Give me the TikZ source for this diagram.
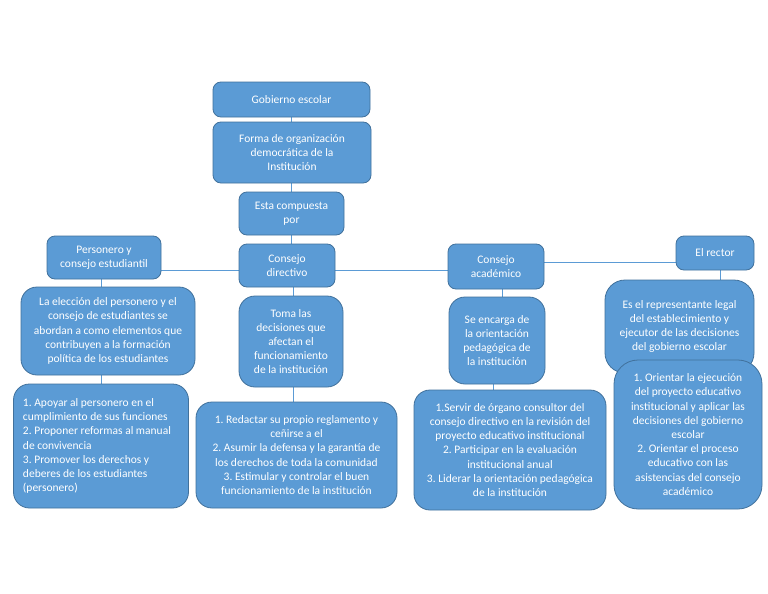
\documentclass[tikz,border=0pt]{standalone}
\usepackage{fontspec}
\setmainfont{Carlito}
\usetikzlibrary{calc}
\definecolor{boxfill}{HTML}{5B9BD5}
\definecolor{boxborder}{HTML}{41719C}
\definecolor{linkc}{HTML}{5B9BD5}
\pgfdeclarelayer{bg}
\pgfsetlayers{bg,main}
\frenchspacing
\begin{document}
\begin{tikzpicture}[x=1pt,y=-1pt,
  box/.style={draw=boxborder, line width=0.8pt, fill=boxfill, text=white, align=center,
    font=\fontsize{11.5}{14.2}\selectfont, inner sep=0pt, rounded corners=8pt},
  bigbox/.style={box, rounded corners=16pt},
  link/.style={draw=linkc, line width=0.7pt}]
\useasboundingbox (0,0) rectangle (768,594);
\node[box, minimum width=157pt, minimum height=35pt] (gob) at (291.5,99.5) {Gobierno escolar};
\node[box, minimum width=158pt, minimum height=61pt] (forma) at (292,152.5) {Forma de organización\\democrática de la\\Institución};
\node[box, minimum width=105pt, minimum height=43pt] (esta) at (291.5,213.5) {Esta compuesta\\por};
\node[box, minimum width=96pt, minimum height=43pt] (cd) at (287,265.5) {Consejo\\directivo};
\node[box, minimum width=114pt, minimum height=43pt] (pers) at (104,257.5) {Personero y\\consejo estudiantil};
\node[bigbox, minimum width=174pt, minimum height=88pt] (elec) at (108,331) {La elección del personero y el\\consejo de estudiantes se\\abordan a como elementos que\\contribuyen a la formación\\política de los estudiantes};
\node[bigbox, minimum width=175pt, minimum height=124pt, align=flush left, text width=156pt] (apoy) at (101,446) {1. Apoyar al personero en el\\cumplimiento de sus funciones\\2. Proponer reformas al manual\\de convivencia\\3. Promover los derechos y\\deberes de los estudiantes\\(personero)};
\node[bigbox, minimum width=104pt, minimum height=91pt] (toma) at (291,341.5) {Toma las\\decisiones que\\afectan el\\funcionamiento\\de la institución};
\node[bigbox, minimum width=201pt, minimum height=106pt] (red) at (296.5,455) {1. Redactar su propio reglamento y\\ceñirse a el\\2. Asumir la defensa y la garantía de\\los derechos de toda la comunidad\\3. Estimular y controlar el buen\\funcionamiento de la institución};
\node[box, minimum width=96pt, minimum height=45pt] (ca) at (496,266.5) {Consejo\\académico};
\node[bigbox, minimum width=96pt, minimum height=87pt] (se) at (497,340.5) {Se encarga de\\la orientación\\pedagógica de\\la institución};
\node[bigbox, minimum width=192pt, minimum height=120pt] (serv) at (510,450) {1.Servir de órgano consultor del\\consejo directivo en la revisión del\\proyecto educativo institucional\\2. Participar en la evaluación\\institucional anual\\3. Liderar la orientación pedagógica\\de la institución};
\node[box, minimum width=78pt, minimum height=34pt] (rect) at (715,253) {El rector};
\node[bigbox, minimum width=149pt, minimum height=93pt, rounded corners=20pt] (esel) at (679.5,326.5) {Es el representante legal\\del establecimiento y\\ejecutor de las decisiones\\del gobierno escolar};
\node[bigbox, minimum width=148pt, minimum height=149pt, rounded corners=24pt] (orie) at (688,434.5) {1. Orientar la ejecución\\del proyecto educativo\\institucional y aplicar las\\decisiones del gobierno\\escolar\\2. Orientar el proceso\\educativo con las\\asistencias del consejo\\académico};
\coordinate (hA) at (0,270);
\coordinate (hB) at (0,262);
\begin{pgfonlayer}{bg}
\fill[white] (0,0) rectangle (768,594);
\draw[link] (gob.south) -- (gob.south |- forma.north);
\draw[link] (esta.north) -- (esta.north |- forma.south);
\draw[link] (esta.south) -- (esta.south |- cd.north);
\draw[link] (toma.north) ++(2,0) coordinate (tn) -- (tn |- cd.south);
\draw[link] (toma.south) ++(2,0) coordinate (ts) -- (ts |- red.north);
\draw[link] (pers.east |- hA) -- (ca.west |- hA);
\draw[link] (ca.east |- hB) -- (rect.west |- hB);
\draw[link] (pers.south) ++(-3,0) coordinate (ps) -- (ps |- elec.north);
\draw[link] (elec.south) ++(-7,0) coordinate (es) -- (es |- apoy.north);
\draw[link] (ca.south) ++(6,0) coordinate (cs) -- (cs |- se.north);
\draw[link] (se.south) ++(-4,0) coordinate (ss) -- (ss |- serv.north);
\draw[link] (rect.south) ++(5,0) coordinate (rs) -- (rs |- esel.north);
\end{pgfonlayer}
\end{tikzpicture}
\end{document}
